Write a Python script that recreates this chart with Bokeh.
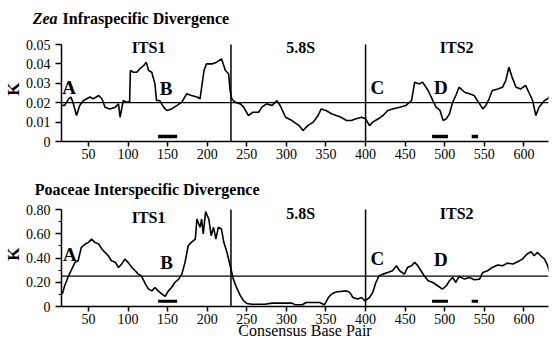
from bokeh.plotting import figure
from bokeh.layouts import column
from bokeh.models import LabelSet, ColumnDataSource, FixedTicker, Span
from bokeh.embed import file_html
from bokeh.resources import INLINE

# ---------------- data ----------------
zea_bp = [16, 20, 25, 28, 31, 35, 39, 44, 48, 52, 56, 63, 67, 71, 77, 84, 88, 90, 94, 98,
          102, 103, 107, 111, 115, 120, 123, 126, 130, 134, 136, 140, 145, 149, 155, 162,
          168, 174, 180, 187, 191, 193, 196, 199, 206, 212, 218, 223, 227, 229, 231, 235,
          242, 246, 252, 258, 265, 269, 275, 282, 288, 292, 299, 307, 316, 321, 327, 334,
          340, 344, 350, 357, 363, 369, 376, 382, 388, 395, 400, 405, 409, 416, 422, 428,
          434, 443, 451, 458, 462, 468, 472, 479, 485, 489, 494, 498, 502, 506, 510, 514,
          518, 525, 531, 537, 544, 548, 552, 556, 560, 567, 573, 577, 581, 585, 590, 596,
          602, 607, 611, 615, 619, 626, 630, 633]
zea_k = [0.0186, 0.0186, 0.0220, 0.0229, 0.0194, 0.0134, 0.0186, 0.0211, 0.0220, 0.0229,
         0.0220, 0.0237, 0.0220, 0.0177, 0.0168, 0.0177, 0.0194, 0.0125, 0.0211, 0.0203,
         0.0203, 0.0366, 0.0357, 0.0357, 0.0375, 0.0392, 0.0409, 0.0366, 0.0357, 0.0297,
         0.0211, 0.0211, 0.0177, 0.0160, 0.0168, 0.0186, 0.0203, 0.0246, 0.0237, 0.0229,
         0.0220, 0.0280, 0.0366, 0.0400, 0.0400, 0.0409, 0.0426, 0.0366, 0.0349, 0.0263,
         0.0220, 0.0203, 0.0194, 0.0177, 0.0134, 0.0151, 0.0151, 0.0177, 0.0194, 0.0186,
         0.0211, 0.0186, 0.0125, 0.0108, 0.0082, 0.0057, 0.0082, 0.0100, 0.0134, 0.0168,
         0.0160, 0.0143, 0.0134, 0.0125, 0.0108, 0.0108, 0.0117, 0.0125, 0.0117, 0.0082,
         0.0100, 0.0117, 0.0134, 0.0160, 0.0168, 0.0177, 0.0186, 0.0211, 0.0306, 0.0297,
         0.0306, 0.0263, 0.0211, 0.0177, 0.0160, 0.0108, 0.0117, 0.0143, 0.0203, 0.0237,
         0.0280, 0.0254, 0.0246, 0.0237, 0.0194, 0.0168, 0.0186, 0.0220, 0.0263, 0.0271,
         0.0280, 0.0314, 0.0383, 0.0332, 0.0280, 0.0271, 0.0289, 0.0246, 0.0211, 0.0134,
         0.0177, 0.0211, 0.0220, 0.0237]

poa_bp = [17, 20, 25, 29, 33, 37, 41, 46, 50, 54, 58, 63, 67, 71, 75, 79, 84, 88, 92, 96,
          100, 105, 109, 113, 117, 122, 126, 130, 134, 138, 143, 147, 151, 155, 159, 164,
          168, 172, 176, 180, 185, 187, 191, 193, 195, 198, 202, 205, 208, 211, 214, 218,
          221, 225, 229, 233, 237, 242, 246, 250, 256, 273, 282, 307, 311, 320, 325, 342,
          348, 353, 357, 361, 365, 376, 380, 384, 390, 395, 399, 405, 409, 413, 417, 422,
          428, 434, 439, 443, 449, 453, 458, 462, 466, 470, 474, 479, 485, 491, 497, 502,
          506, 510, 514, 518, 525, 531, 537, 544, 548, 554, 560, 567, 573, 579, 586, 592,
          598, 604, 609, 613, 617, 621, 626, 630, 633]
poa_k = [0.102, 0.171, 0.253, 0.309, 0.364, 0.377, 0.488, 0.515, 0.529, 0.556, 0.529,
         0.515, 0.474, 0.446, 0.419, 0.377, 0.364, 0.322, 0.350, 0.391, 0.364, 0.322,
         0.295, 0.267, 0.253, 0.185, 0.143, 0.129, 0.157, 0.129, 0.102, 0.083, 0.129,
         0.157, 0.198, 0.226, 0.267, 0.364, 0.501, 0.529, 0.556, 0.722, 0.653, 0.722,
         0.598, 0.782, 0.722, 0.584, 0.653, 0.556, 0.653, 0.639, 0.529, 0.446, 0.336,
         0.226, 0.157, 0.088, 0.047, 0.025, 0.019, 0.019, 0.028, 0.028, 0.014, 0.014,
         0.033, 0.033, 0.014, 0.074, 0.102, 0.116, 0.121, 0.129, 0.116, 0.074, 0.061,
         0.074, 0.047, 0.074, 0.116, 0.198, 0.253, 0.267, 0.281, 0.295, 0.336, 0.295,
         0.267, 0.322, 0.336, 0.364, 0.336, 0.295, 0.253, 0.212, 0.198, 0.171, 0.143,
         0.171, 0.212, 0.240, 0.198, 0.248, 0.226, 0.240, 0.220, 0.226, 0.281, 0.295,
         0.322, 0.342, 0.336, 0.358, 0.350, 0.369, 0.391, 0.433, 0.452, 0.419, 0.446,
         0.419, 0.391, 0.336, 0.267]

region_bounds = [230, 400]
region_names = ["ITS1", "5.8S", "ITS2"]
region_letters = ["A", "B", "C", "D"]
bar_start = [138, 484, 534]
bar_end = [162, 504, 542]
zea_mean = 0.02
poa_mean = 0.25
x_ticks = [50, 100, 150, 200, 250, 300, 350, 400, 450, 500, 550, 600]
zea_ticks = [0, 0.01, 0.02, 0.03, 0.04, 0.05]
zea_tick_labels = ["0", "0.01", "0.02", "0.03", "0.04", "0.05"]
poa_ticks = [0, 0.2, 0.4, 0.6, 0.8]
poa_minor = [0.1, 0.3, 0.5, 0.7]
poa_tick_labels = ["0", "0.20", "0.40", "0.60", "0.80"]

FONT = "Liberation Serif"
W = 550
X_RANGE = (16, 631)
BORDER_L = 61
BORDER_R = 2


def header(h, yc, left_text, left_style, standoff, rest_text=None):
    """Header strip whose frame is aligned with the plots below it.
    The left part of the title is drawn as the (only) y tick label."""
    f = figure(width=W, height=h, x_range=(0, W - BORDER_L - BORDER_R), y_range=(0, h),
               output_backend="svg", toolbar_location=None, x_axis_location=None,
               min_border_left=BORDER_L, min_border_right=BORDER_R,
               min_border_top=0, min_border_bottom=0)
    f.grid.visible = False
    f.outline_line_color = None
    ya = f.yaxis[0]
    ya.ticker = FixedTicker(ticks=[yc], minor_ticks=[])
    ya.major_label_overrides = {yc: left_text}
    ya.axis_line_color = None
    ya.major_tick_line_color = None
    ya.minor_tick_line_color = None
    ya.major_tick_out = 0
    ya.major_tick_in = 0
    ya.major_label_standoff = standoff
    ya.major_label_text_font = FONT
    ya.major_label_text_font_style = left_style
    ya.major_label_text_font_size = "16px"
    ya.major_label_text_color = "black"
    if rest_text:
        src = ColumnDataSource(dict(x=[1], y=[yc], t=[rest_text]))
        f.add_layout(LabelSet(x="x", y="y", text="t", source=src, text_font=FONT,
                              text_font_style="bold", text_font_size="16px",
                              text_align="left", text_baseline="middle", text_color="black"))
    return f


def style(p, yticks, ylabels, ytop, yminor=None):
    p.xgrid.visible = False
    p.ygrid.visible = False
    p.outline_line_color = None
    for ax in (p.xaxis[0], p.yaxis[0]):
        ax.axis_line_color = "black"
        ax.axis_line_width = 1.5
        ax.major_tick_line_color = "black"
        ax.major_tick_line_width = 1.5
        ax.major_tick_in = 0
        ax.major_label_text_font = FONT
        ax.major_label_text_font_size = "14px"
        ax.major_label_text_color = "black"
    xa = p.xaxis[0]
    xa.ticker = FixedTicker(ticks=x_ticks)
    xa.major_tick_out = 5
    xa.major_label_standoff = 2
    xa.minor_tick_line_color = None
    ya = p.yaxis[0]
    ya.bounds = (0, ytop)
    ya.ticker = FixedTicker(ticks=yticks, minor_ticks=yminor or [])
    ya.major_label_overrides = {t: l for t, l in zip(yticks, ylabels)}
    ya.major_tick_out = 6
    ya.major_label_standoff = 5
    ya.minor_tick_out = 3
    ya.minor_tick_in = 0
    ya.minor_tick_line_color = "black" if yminor else None
    ya.minor_tick_line_width = 1.2
    ya.axis_label = "K"
    ya.axis_label_text_font = FONT
    ya.axis_label_text_font_style = "bold"
    ya.axis_label_text_font_size = "17px"
    ya.axis_label_text_color = "black"
    ya.axis_label_standoff = 0


def panel(p, bp, k, mean, ytop, name_y, letter_pos, bar_y, bar_w):
    n = len(region_bounds)
    p.segment(x0=region_bounds, y0=[0] * n, x1=region_bounds, y1=[ytop] * n,
              line_color="black", line_width=1.5)
    p.add_layout(Span(location=mean, dimension="width", line_color="black", line_width=1.3))
    p.line(bp, k, line_color="black", line_width=1.6)
    m = len(bar_start)
    p.segment(x0=bar_start, y0=[bar_y] * m, x1=bar_end, y1=[bar_y] * m,
              line_color="black", line_width=bar_w, line_cap="butt")
    src = ColumnDataSource(dict(x=[126, 318, 515], y=name_y, t=region_names))
    p.add_layout(LabelSet(x="x", y="y", text="t", source=src, text_font=FONT,
                          text_font_style="bold", text_font_size="16px",
                          text_align="center", text_baseline="middle", text_color="black"))
    src2 = ColumnDataSource(dict(x=[q[0] for q in letter_pos], y=[q[1] for q in letter_pos],
                                 t=region_letters))
    p.add_layout(LabelSet(x="x", y="y", text="t", source=src2, text_font=FONT,
                          text_font_style="bold", text_font_size="19px",
                          text_align="center", text_baseline="middle", text_color="black"))


# ---------- top panel ----------
h1 = header(30, 12.5, "Zea", "bold italic", 4, "Infraspecific Divergence")
p1 = figure(width=W, height=142, x_range=X_RANGE, y_range=(0, 0.054124),
            output_backend="svg", toolbar_location=None,
            min_border_left=BORDER_L, min_border_right=BORDER_R,
            min_border_top=6, min_border_bottom=31)
style(p1, zea_ticks, zea_tick_labels, 0.05)
panel(p1, zea_bp, zea_k, zea_mean, 0.05, [0.0482, 0.0482, 0.0482],
      [(25.6, 0.0276), (148, 0.0272), (415, 0.0278), (495, 0.0278)], 0.0026, 3.5)

# ---------- bottom panel ----------
h2 = header(28, 11.2, "Poaceae Interspecific Divergence", "bold", -198)
p2 = figure(width=W, height=148, x_range=X_RANGE, y_range=(0, 0.866),
            output_backend="svg", toolbar_location=None,
            min_border_left=BORDER_L, min_border_right=BORDER_R,
            min_border_top=1, min_border_bottom=42)
style(p2, poa_ticks, poa_tick_labels, 0.8, yminor=poa_minor)
panel(p2, poa_bp, poa_k, poa_mean, 0.8, [0.735, 0.77, 0.77],
      [(26.5, 0.427), (148.6, 0.367), (415, 0.392), (495, 0.389)], 0.043, 3)
xa2 = p2.xaxis[0]
xa2.axis_label = "Consensus Base Pair"
xa2.axis_label_text_font = FONT
xa2.axis_label_text_font_style = "normal"
xa2.axis_label_text_font_size = "16px"
xa2.axis_label_text_color = "black"
xa2.axis_label_standoff = -5

layout = column(h1, p1, h2, p2, spacing=0)
open("out.html", "w").write(file_html(layout, INLINE))
